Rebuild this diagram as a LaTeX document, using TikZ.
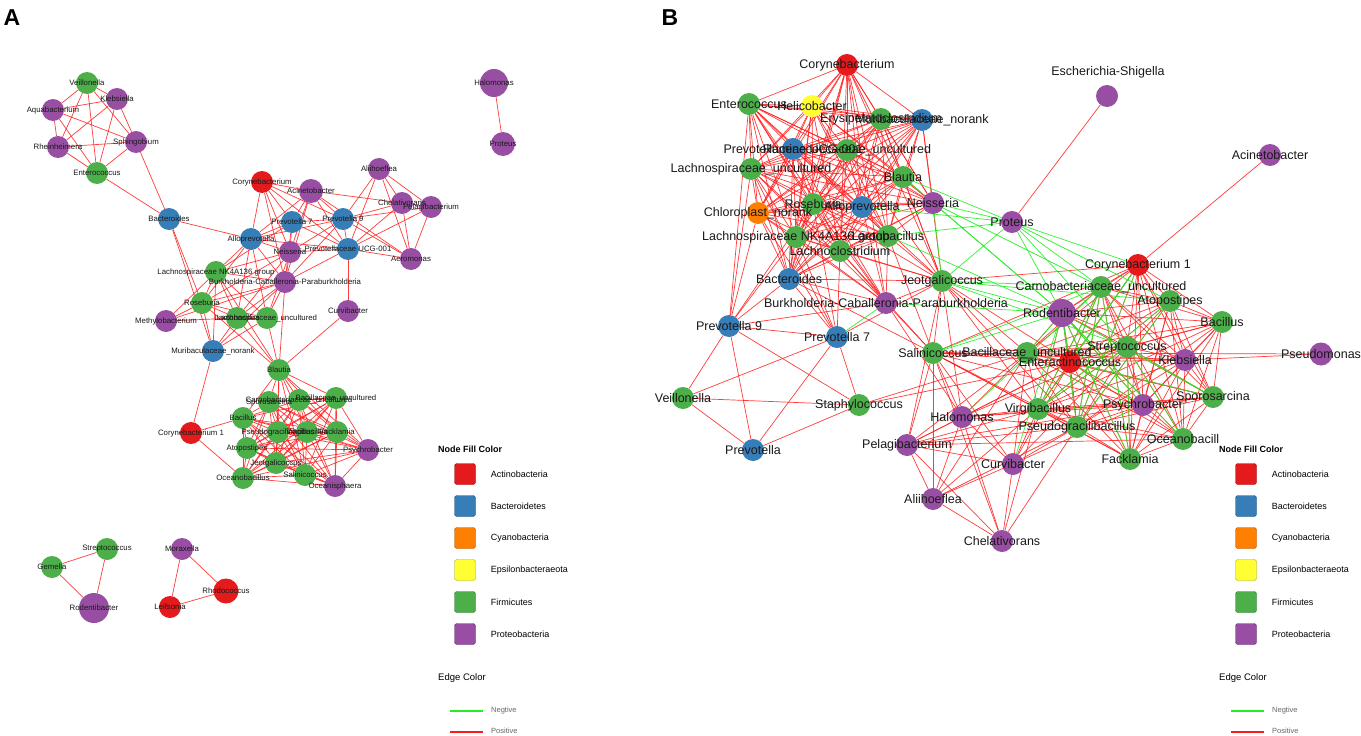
\documentclass[tikz,border=0pt]{standalone}
\usepackage{fontspec}
\setmainfont{Liberation Sans}
\usetikzlibrary{positioning}
\pgfdeclarelayer{edges}
\pgfsetlayers{edges,main}

\tikzset{
  taxon/.style={circle, fill=#1, draw=none, inner sep=0pt},
  nameA/.style={font=\fontsize{7.8}{8}\selectfont, text=black!90, inner sep=0pt},
  nameB/.style={font=\fontsize{12.5}{13}\selectfont, text=black!90, inner sep=0pt},
  poslink/.style={draw=edgeRed, line width=0.7pt, opacity=0.85},
  neglink/.style={draw=edgeGreen, line width=0.7pt, opacity=0.9},
  legbox/.style={fill=#1, draw=#1!65!black, line width=0.4pt, rounded corners=2.5pt, minimum size=21pt, inner sep=0pt},
  legtitle/.style={font=\fontsize{9}{10}\selectfont\bfseries, anchor=west, inner sep=0pt},
  legtext/.style={font=\fontsize{9}{10}\selectfont, text=black, inner sep=0pt},
  legsmall/.style={font=\fontsize{7.5}{8}\selectfont, text=black!60, inner sep=0pt, anchor=west}
}

% Node data: name/x/y/colour/radius/label
\def\nodesA{aVei/87/83/cFir/11/Veillonella, aKle/117/99/cPro/11/Klebsiella,
  aAqu/53/110/cPro/11/Aquabacterium, aRhe/58/147/cPro/11/Rheinheimera,
  aSph/136/142/cPro/11/Sphingobium, aEnt/97/173/cFir/11/Enterococcus,
  aBac/169/219/cBac/11/Bacteroides, aCor/262/182/cAct/11/Corynebacterium,
  aAci/311/191/cPro/12/Acinetobacter, aAli/379/169/cPro/11/Aliihoeflea,
  aPr7/292/222/cBac/11/Prevotella 7, aPr9/343/219/cBac/11/Prevotella 9,
  aAll/251/239/cBac/11/Alloprevotella, aNei/290/252/cPro/11/Neisseria,
  aPUC/348/249/cBac/11/Prevotellaceae UCG-001, aChe/402/203/cPro/11/Chelativorans,
  aPel/431/207/cPro/11/Pelagibacterium, aAer/411/259/cPro/11/Aeromonas,
  aLNK/216/272/cFir/11/Lachnospiraceae NK4A136 group,
  aBur/285/282/cPro/11/Burkholderia-Caballeronia-Paraburkholderia,
  aRos/202/303/cFir/11/Roseburia, aMet/166/321/cPro/11/Methylobacterium,
  aLac/237/318/cFir/11/Lactobacillus, aLun/267/318/cFir/11/Lachnospiraceae\_uncultured,
  aCur/348/311/cPro/11/Curvibacter, aMur/213/351/cBac/11/Muribaculaceae\_norank,
  aBla/279/370/cFir/11/Blautia, aCo1/191/433/cAct/11/Corynebacterium 1,
  aSpo/269/402/cFir/11/Sporosarcina, aCar/299/400/cFir/11/Carnobacteriaceae\_uncultured,
  aBun/336/398/cFir/11/Bacillaceae\_uncultured, aBcs/243/418/cFir/11/Bacillus,
  aPse/278/432/cFir/11/Pseudogracilibacillus, aVir/307/432/cFir/11/Virgibacillus,
  aFac/337/432/cFir/11/Facklamia, aAto/247/448/cFir/11/Atopostipes,
  aPsy/368/450/cPro/11/Psychrobacter, aJeo/276/463/cFir/11/Jeotgalicoccus,
  aOce/243/478/cFir/11/Oceanobacillus, aSal/305/475/cFir/11/Salinicoccus,
  aOsp/335/486/cPro/11/Oceanisphaera, aGem/52/567/cFir/11/Gemella,
  aStr/107/549/cFir/11/Streptococcus, aRod/94/608/cPro/15/Rodentibacter,
  aMor/182/549/cPro/11/Moraxella, aRho/226/591/cAct/12.5/Rhodococcus,
  aLei/170/607/cAct/11/Leifsonia, aHal/494/83/cPro/14/Halomonas,
  aPro/503/144/cPro/12/Proteus}

\def\nodesB{bCor/847/65/cAct/11/Corynebacterium, bEnt/749/104/cFir/11/Enterococcus,
  bHel/812/106/cEps/11/Helicobacter, bEry/881/119/cFir/11/Erysipelatoclostridium,
  bMur/922/120/cBac/11/Muribaculaceae\_norank, bPUC/793/149/cBac/11/Prevotellaceae UCG-001,
  bRum/847/150/cFir/11/Ruminococcaceae\_uncultured, bLun/751/169/cFir/11/Lachnospiraceae\_uncultured,
  bBla/903/177/cFir/11/Blautia, bNei/933/203/cPro/11/Neisseria,
  bChl/758/213/cCya/11/Chloroplast\_norank, bRos/813/204/cFir/11/Roseburia,
  bAll/862/207/cBac/11/Alloprevotella, bLNK/796/237/cFir/11/Lachnospiraceae NK4A136 group,
  bLac/888/236/cFir/11/Lactobacillus, bLcl/840/251/cFir/11/Lachnoclostridium,
  bBac/789/279/cBac/11/Bacteroides, bJeo/942/281/cFir/11/Jeotgalicoccus,
  bBur/886/303/cPro/11/Burkholderia-Caballeronia-Paraburkholderia,
  bPr9/729/326/cBac/11/Prevotella 9, bPr7/837/337/cBac/11/Prevotella 7,
  bSal/933/353/cFir/11/Salinicoccus, bVei/683/398/cFir/11/Veillonella,
  bSta/859/405/cFir/11/Staphylococcus, bHal/962/417/cPro/11/Halomonas,
  bPel/907/445/cPro/11/Pelagibacterium, bPre/753/450/cBac/11/Prevotella,
  bCur/1013/464/cPro/11/Curvibacter, bAli/933/499/cPro/11/Aliihoeflea,
  bChe/1002/541/cPro/11/Chelativorans, bPro/1012/222/cPro/11/Proteus,
  bAci/1270/155/cPro/11/Acinetobacter, bCo1/1138/265/cAct/11/Corynebacterium 1,
  bCar/1101/287/cFir/11/Carnobacteriaceae\_uncultured, bAto/1170/301/cFir/11/Atopostipes,
  bRod/1062/313/cPro/14/Rodentibacter, bBcs/1222/322/cFir/11/Bacillus,
  bStr/1127/347/cFir/11/Streptococcus, bPsm/1321/354/cPro/11.5/Pseudomonas,
  bBun/1027/353/cFir/11/Bacillaceae\_uncultured, bEac/1070/362/cAct/11/Enteractinococcus,
  bKle/1185/360/cPro/11/Klebsiella, bSpo/1213/397/cFir/11/Sporosarcina,
  bVir/1038/409/cFir/11/Virgibacillus, bPsy/1143/405/cPro/11/Psychrobacter,
  bPse/1077/427/cFir/11/Pseudogracilibacillus, bOce/1183/439/cFir/11/Oceanobacill,
  bFac/1130/459/cFir/11/Facklamia}

% Groups that are (almost) fully linked
\def\clTopLeft{aVei,aKle,aAqu,aRhe,aSph,aEnt}
\def\clBottom{aSpo,aCar,aBun,aBcs,aPse,aVir,aFac,aAto,aPsy,aJeo,aOce,aSal,aOsp}
\def\clGut{bCor,bEnt,bHel,bEry,bMur,bPUC,bRum,bLun,bBla,bNei,bChl,bRos,bAll,bLNK,bLac,bLcl,bBac}
\def\clSoil{bCo1,bCar,bAto,bRod,bBcs,bStr,bBun,bEac,bKle,bSpo,bVir,bPsy,bPse,bOce,bFac}

\begin{document}
\begin{tikzpicture}[x=1pt, y=-1pt]
% Colors define
\definecolor{cAct}{HTML}{E41A1C}
\definecolor{cBac}{HTML}{377EB8}
\definecolor{cCya}{HTML}{FF7F00}
\definecolor{cEps}{HTML}{FFFF33}
\definecolor{cFir}{HTML}{4DAF4A}
\definecolor{cPro}{HTML}{984EA3}
\definecolor{edgeRed}{HTML}{FF1A1A}
\definecolor{edgeGreen}{HTML}{22EE22}

\useasboundingbox (0,0) rectangle (1361,736);

% Panel letters
\node[font=\fontsize{23}{24}\selectfont\bfseries] (panA) at (12,18) {A};
\node[font=\fontsize{23}{24}\selectfont\bfseries] (panB) at (670,18) {B};

% Taxa circles
\foreach \nm/\px/\py/\col/\rad/\lab in \nodesA
  \node[taxon=\col, minimum size=2*\rad] (\nm) at (\px,\py) {};
\foreach \nm/\px/\py/\col/\rad/\lab in \nodesB
  \node[taxon=\col, minimum size=2*\rad] (\nm) at (\px,\py) {};
\node[taxon=cPro, minimum size=22] (bEsc) at (1107,96) {};

\begin{pgfonlayer}{edges}
\fill[white] (0,0) rectangle (1361,736);

% Panel A: positive links
\foreach \u [count=\i] in \clTopLeft
  \foreach \v [count=\j] in \clTopLeft
    {\ifnum\j>\i \draw[poslink] (\u) -- (\v);\fi}
\foreach \u [count=\i] in \clBottom
  \foreach \v [count=\j] in \clBottom
    {\ifnum\j>\i \draw[poslink] (\u) -- (\v);\fi}
\foreach \u/\v in {aSph/aBac, aEnt/aBac, aBac/aAll, aBac/aRos, aBac/aMur,
  aCor/aAci, aCor/aPr7, aCor/aPr9, aCor/aAll, aCor/aNei, aCor/aPUC, aCor/aBur,
  aAci/aPr7, aAci/aPr9, aAci/aPUC, aAci/aNei, aAci/aAll, aAci/aAer, aAci/aChe, aAci/aBur,
  aPr7/aPr9, aPr7/aAll, aPr7/aNei, aPr7/aPUC, aPr7/aBur, aPr7/aLNK,
  aPr9/aAll, aPr9/aNei, aPr9/aPUC, aPr9/aBur, aPr9/aChe, aPr9/aAli, aPr9/aPel, aPr9/aAer,
  aPUC/aAli, aPUC/aChe, aPUC/aPel, aPUC/aAer, aPUC/aCur, aPUC/aNei, aPUC/aBur, aPUC/aAll,
  aAli/aChe, aAli/aPel, aAli/aAer, aChe/aPel, aChe/aAer, aPel/aAer,
  aAll/aNei, aAll/aLNK, aAll/aBur, aAll/aRos, aAll/aLac, aAll/aLun,
  aNei/aLNK, aNei/aBur, aNei/aLac, aNei/aLun, aNei/aRos,
  aLNK/aBur, aLNK/aRos, aLNK/aLac, aLNK/aLun, aLNK/aMet, aLNK/aMur, aLNK/aBla,
  aBur/aRos, aBur/aLac, aBur/aLun, aBur/aMet, aBur/aMur, aBur/aBla,
  aRos/aMet, aRos/aLac, aRos/aLun, aRos/aMur, aRos/aBla,
  aMet/aLac, aLac/aLun, aLac/aMur, aLac/aBla, aLun/aMur, aLun/aBla,
  aCur/aBla, aMur/aCo1, aCo1/aBcs, aCo1/aOce,
  aBla/aSpo, aBla/aCar, aBla/aBun, aBla/aBcs, aBla/aPse, aBla/aVir, aBla/aFac,
  aBla/aPsy, aBla/aJeo, aBla/aSal,
  aGem/aStr, aGem/aRod, aStr/aRod, aMor/aLei, aMor/aRho, aLei/aRho, aHal/aPro}
  \draw[poslink] (\u) -- (\v);

% Panel B: positive links
\foreach \u [count=\i] in \clGut
  \foreach \v [count=\j] in \clGut
    {\ifnum\j>\i \draw[poslink] (\u) -- (\v);\fi}
\foreach \u [count=\i] in \clSoil
  \foreach \v [count=\j] in \clSoil
    {\ifnum\j>\i \draw[poslink] (\u) -- (\v);\fi}
\foreach \u/\v in {bJeo/bCor, bJeo/bEry, bJeo/bRum, bJeo/bBla, bJeo/bAll, bJeo/bLac,
  bJeo/bLcl, bJeo/bBac, bJeo/bLNK, bJeo/bRos, bJeo/bBur, bJeo/bSal, bJeo/bPr7, bJeo/bCo1,
  bJeo/bHal, bJeo/bPel, bJeo/bBun, bJeo/bMur, bJeo/bVir, bJeo/bPse, bJeo/bEac,
  bBur/bCor, bBur/bLun, bBur/bChl, bBur/bLNK, bBur/bLac, bBur/bLcl, bBur/bBac, bBur/bAll,
  bBur/bRos, bBur/bSal, bBur/bPr9, bBur/bHal, bBur/bEnt, bBur/bPUC,
  bPr9/bEnt, bPr9/bLun, bPr9/bChl, bPr9/bLNK, bPr9/bBac, bPr9/bPr7, bPr9/bVei, bPr9/bPre,
  bPr9/bSta, bPr9/bRos, bPr7/bChl, bPr7/bLNK, bPr7/bLcl, bPr7/bBac, bPr7/bVei, bPr7/bPre,
  bPr7/bSta, bPr7/bRos, bPr7/bLun, bVei/bSta, bVei/bPre, bPre/bSta, bSta/bBun, bSta/bEac,
  bBac/bSal, bLcl/bSal, bLac/bSal,
  bSal/bHal, bSal/bPel, bSal/bCur, bSal/bAli, bSal/bChe, bSal/bVir, bSal/bPse, bSal/bEac,
  bSal/bBun, bSal/bPsy, bSal/bFac, bSal/bKle, bSal/bStr, bSal/bCo1,
  bHal/bPel, bHal/bCur, bHal/bAli, bHal/bChe, bHal/bVir, bHal/bPse, bHal/bEac, bHal/bBun,
  bHal/bPsy, bHal/bStr, bHal/bSpo,
  bPel/bCur, bPel/bAli, bPel/bChe, bPel/bVir, bPel/bPse, bPel/bBun, bPel/bEac, bPel/bPsy,
  bPel/bOce, bCur/bAli, bCur/bChe, bCur/bVir, bCur/bPse, bCur/bEac, bCur/bBun, bCur/bPsy,
  bCur/bStr, bAli/bChe, bAli/bVir, bAli/bPse, bAli/bBun, bChe/bPse, bChe/bVir,
  bPsm/bKle, bPsm/bBun, bAci/bCo1, bEsc/bPro}
  \draw[poslink] (\u) -- (\v);

% Panel B: negative links
\foreach \u/\v in {bPro/bBla, bPro/bNei, bPro/bAll, bPro/bLac, bPro/bJeo, bPro/bCo1,
  bPro/bCar, bPro/bRod, bPro/bAto, bPro/bStr, bNei/bJeo, bNei/bCar, bNei/bRod, bBla/bRod,
  bLac/bRod, bJeo/bCar, bJeo/bRod, bJeo/bAto, bJeo/bStr, bBur/bPr7, bBur/bRod,
  bSal/bRod, bSal/bCar, bRod/bEac, bRod/bVir, bRod/bPse, bRod/bFac, bRod/bBun, bRod/bOce,
  bRod/bPsy, bCar/bVir, bCar/bPse, bCar/bFac, bCar/bEac, bStr/bFac, bStr/bOce, bStr/bSpo,
  bStr/bVir, bCo1/bEac, bCo1/bVir, bCo1/bPse, bAto/bPse, bAto/bVir, bCur/bRod, bHal/bCar,
  bSpo/bRod, bSpo/bEac, bPsy/bEac}
  \draw[neglink] (\u) -- (\v);
\end{pgfonlayer}

% Taxa names
\foreach \nm/\px/\py/\col/\rad/\lab in \nodesA
  \node[nameA] (\nm-t) at (\nm) {\lab};
\foreach \nm/\px/\py/\col/\rad/\lab in \nodesB
  \node[nameB] (\nm-t) at (\nm) {\lab};
\node[nameB] (bEsc-t) at (1108,72) {Escherichia-Shigella};

% Legends
\foreach \lg/\dx in {legA/0, legB/781}{
  \node[legtitle] (\lg) at (438+\dx,449) {Node Fill Color};
  \foreach \col/\lab [count=\k] in {cAct/Actinobacteria, cBac/Bacteroidetes,
      cCya/Cyanobacteria, cEps/Epsilonbacteraeota, cFir/Firmicutes, cPro/Proteobacteria}{
    \node[legbox=\col] (\lg-\k) at (465+\dx,442+32*\k) {};
    \node[legtext, right=15pt of \lg-\k] (\lg-\k-t) {\lab};
  }
  \node[legtitle, font=\fontsize{9.5}{10}\selectfont] (\lg-e) at (438+\dx,678) {Edge Color};
  \coordinate (\lg-n1) at (450+\dx,711);
  \coordinate (\lg-n2) at (483+\dx,711);
  \coordinate (\lg-p1) at (450+\dx,732);
  \coordinate (\lg-p2) at (483+\dx,732);
  \draw[edgeGreen, line width=1.5pt] (\lg-n1) -- (\lg-n2);
  \draw[edgeRed, line width=1.5pt] (\lg-p1) -- (\lg-p2);
  \node[legsmall] (\lg-nt) at (491+\dx,711) {Negtive};
  \node[legsmall] (\lg-pt) at (491+\dx,731) {Positive};
}
\end{tikzpicture}
\end{document}
